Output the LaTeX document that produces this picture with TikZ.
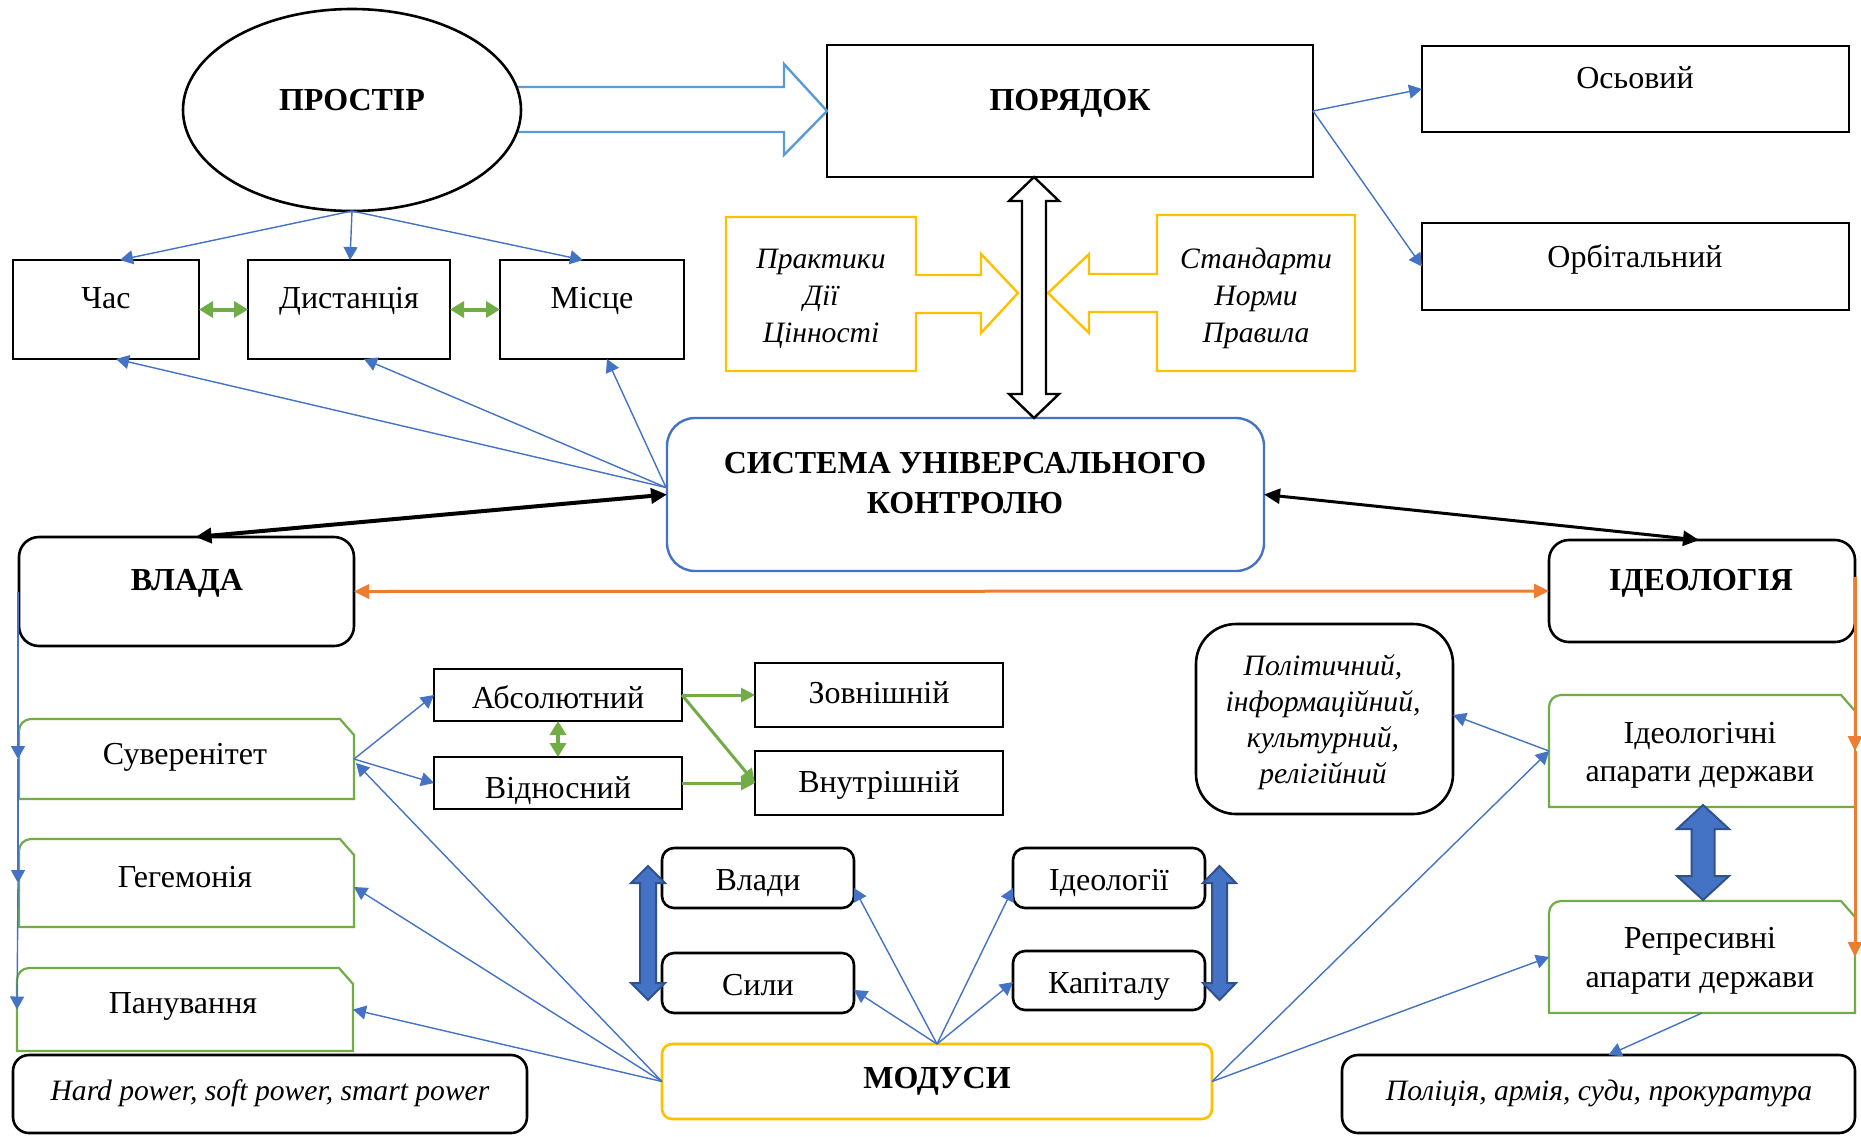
\documentclass[tikz,border=0pt]{standalone}
\usepackage{fontspec}
\setmainfont{Liberation Serif}
\usetikzlibrary{arrows.meta,shapes.geometric,calc}
\definecolor{ofblue}{HTML}{4472C4}
\definecolor{ltblue}{HTML}{5B9BD5}
\definecolor{dkblue}{HTML}{2F528F}
\definecolor{ofgreen}{HTML}{70AD47}
\definecolor{ofgold}{HTML}{FFC000}
\definecolor{oforange}{HTML}{ED7D31}
\newcommand\bx[6]{\node[#2, inner sep=0pt, outer sep=0pt, minimum width={(#5-#3)*0.5pt}, minimum height={(#6-#4)*0.5pt}] (#1) at ({(#3+#5)/2},{(#4+#6)/2}) {};}
\newcommand\gshape[1]{\draw[gbox] (#1.south west) -- ([yshift=-6pt]#1.north west) arc[start angle=180,end angle=90,radius=6pt] -- ([xshift=-7pt]#1.north east) -- ([yshift=-8pt]#1.north east) -- (#1.south east) -- cycle;}
\newcommand\vdbl[7]{\draw[#7] (#1,#2) -- ({#1+#4},{#2+#6}) -- ({#1+#5},{#2+#6}) -- ({#1+#5},{#3-#6}) -- ({#1+#4},{#3-#6}) -- (#1,#3) -- ({#1-#4},{#3-#6}) -- ({#1-#5},{#3-#6}) -- ({#1-#5},{#2+#6}) -- ({#1-#4},{#2+#6}) -- cycle;}
\tikzset{
  blk/.style={draw=black, line width=1.3pt},
  rblk/.style={draw=black, line width=1.3pt, rounded corners=#1},
  gbox/.style={draw=ofgreen, line width=1.1pt},
  txt/.style={font=\fontsize{16}{18.5}\selectfont, align=center, inner sep=0pt, text height=10.6pt, text depth=0pt},
  btxt/.style={txt, font=\bfseries\fontsize{16}{20}\selectfont},
  itxt/.style={txt, font=\itshape\fontsize{14.8}{18.5}\selectfont},
  conn/.style={ofblue, line width=0.7pt, -{Triangle[length=6.5pt,width=7pt]}},
  garr/.style={ofgreen, line width=1.5pt, -{Triangle[length=7pt,width=7pt]}},
  gdbl/.style={ofgreen, line width=2pt, {Triangle[length=7pt,width=8pt]}-{Triangle[length=7pt,width=8pt]}},
  oarr/.style={oforange, line width=1.5pt, -{Triangle[length=7.5pt,width=7pt]}},
  odbl/.style={oforange, line width=1.5pt, {Triangle[length=7.5pt,width=7pt]}-{Triangle[length=7.5pt,width=7pt]}},
  kdbl/.style={black, line width=#1, {Triangle[length=8pt,width=7.5pt]}-{Triangle[length=8pt,width=7.5pt]}},
  bigblue/.style={fill=ofblue, draw=dkblue, line width=1pt},
  callout/.style={draw=ofgold, line width=1.2pt, fill=white}
}
\begin{document}
\begin{tikzpicture}[x=0.5pt,y=-0.5pt]
\useasboundingbox (0,0) rectangle (1861,1136);
\fill[white] (0,0) rectangle (1861,1136);

% ---------- boxes ----------
\node[ellipse, inner sep=0pt, outer sep=0pt, minimum width=169pt, minimum height=101pt] (prostir) at (352,110) {};
\bx{porjadok}{blk}{827}{45}{1313}{177}
\bx{osovyi}{blk}{1422}{46}{1849}{132}
\bx{orbit}{blk}{1422}{223}{1849}{310}
\bx{chas}{blk}{13}{260}{199}{359}
\bx{dist}{blk}{248}{260}{450}{359}
\bx{misce}{blk}{500}{260}{684}{359}
\bx{system}{draw=ofblue, line width=1.2pt, rounded corners=14pt}{667}{418}{1264}{571}
\bx{vlada}{rblk=10pt}{19}{537}{354}{646}
\bx{ideol}{rblk=10pt}{1549}{540}{1855}{642}
\bx{abs}{blk}{434}{669}{682}{721}
\bx{vidn}{blk}{434}{757}{682}{809}
\bx{zovn}{blk}{755}{663}{1003}{727}
\bx{vnutr}{blk}{755}{751}{1003}{815}
\bx{polit}{rblk=20pt}{1196}{624}{1453}{814}
\bx{vladi}{rblk=6pt}{662}{848}{854}{908}
\bx{syly}{rblk=6pt}{662}{953}{854}{1013}
\bx{ideolii}{rblk=6pt}{1013}{848}{1205}{908}
\bx{kapital}{rblk=6pt}{1013}{951}{1205}{1010}
\bx{modusy}{draw=ofgold, line width=1.3pt, rounded corners=5pt}{662}{1044}{1212}{1119}
\bx{hard}{rblk=8pt}{13}{1055}{527}{1133}
\bx{polic}{rblk=8pt}{1342}{1055}{1855}{1133}
\bx{suver}{}{19}{719}{354}{799}
\bx{hegem}{}{19}{839}{354}{927}
\bx{panuv}{}{17}{968}{353}{1051}
\bx{ideoap}{}{1549}{695}{1855}{807}
\bx{repres}{}{1549}{901}{1855}{1013}
\gshape{suver}
\gshape{hegem}
\gshape{panuv}
\gshape{ideoap}
\gshape{repres}

% hollow arrow PROSTIR -> PORJADOK
\draw[ltblue, line width=1.2pt, fill=white] ($(prostir.east)+(-6,-23)$) -- ($(porjadok.west)+(-43,-24)$) -- ($(porjadok.west)+(-43,-47)$) -- (porjadok.west) -- ($(porjadok.west)+(-43,44)$) -- ($(porjadok.west)+(-43,21)$) -- ($(prostir.east)+(-6,22)$) -- cycle;
\draw[black, line width=1.3pt, fill=white] (prostir) ellipse[x radius=169, y radius=101];

% yellow callouts
\draw[callout] (726,217) -- (916,217) -- (916,275) -- (981,275) -- (981,254) -- (1018,293) -- (981,333) -- (981,313) -- (916,313) -- (916,371) -- (726,371) -- cycle;
\draw[callout] (1355,215) -- (1157,215) -- (1157,274) -- (1089,274) -- (1089,254) -- (1048,293) -- (1089,333) -- (1089,312) -- (1157,312) -- (1157,371) -- (1355,371) -- cycle;

% vertical hollow double arrow PORJADOK <-> SYSTEM
\coordinate (vt) at (1034,0 |- porjadok.south);
\coordinate (vb) at (1034,0 |- system.north);
\draw[black, line width=1.2pt, fill=white] (vt) -- ($(vt)+(25,24)$) -- ($(vt)+(12,24)$) -- ($(vb)+(12,-24)$) -- ($(vb)+(25,-24)$) -- (vb) -- ($(vb)+(-25,-24)$) -- ($(vb)+(-12,-24)$) -- ($(vt)+(-12,24)$) -- ($(vt)+(-25,24)$) -- cycle;

% big blue double arrows
\vdbl{648}{866}{1000}{17}{8}{17}{bigblue}
\vdbl{1219.5}{866}{1000}{16.5}{7.5}{17}{bigblue}
\vdbl{1703}{805}{900}{26}{11.5}{24}{bigblue}

% ---------- texts ----------
\node[btxt] (prostir-t) at (352,100) {ПРОСТІР};
\node[btxt] (porjadok-t) at (1070,100) {ПОРЯДОК};
\node[txt] (osovyi-t) at (1635,78) {Осьовий};
\node[txt] (orbit-t) at (1635,257) {Орбітальний};
\node[txt] (chas-t) at (106,298) {Час};
\node[txt] (dist-t) at (349,298) {Дистанція};
\node[txt] (misce-t) at (592,298) {Місце};
\node[itxt] (prakt-t) at (821,332) {Практики\\Дії\\Цінності};
\node[itxt] (stand-t) at (1256,332) {Стандарти\\Норми\\Правила};
\node[btxt] (system-t) at (965,503) {СИСТЕМА УНІВЕРСАЛЬНОГО\\КОНТРОЛЮ};
\node[btxt] (vlada-t) at (187,580) {ВЛАДА};
\node[btxt] (ideol-t) at (1701,580) {ІДЕОЛОГІЯ};
\node[txt] (abs-t) at (558,698) {Абсолютний};
\node[txt] (vidn-t) at (558,788) {Відносний};
\node[txt] (zovn-t) at (879,693) {Зовнішній};
\node[txt] (vnutr-t) at (879,782) {Внутрішній};
\node[txt] (suver-t) at (185,754) {Суверенітет};
\node[txt] (hegem-t) at (185,877) {Гегемонія};
\node[txt] (panuv-t) at (183,1003) {Панування};
\node[itxt, font=\itshape\fontsize{14.8}{18}\selectfont] (polit-t) at (1323,773) {Політичний,\\інформаційний,\\культурний,\\релігійний};
\node[txt, font=\fontsize{16}{19}\selectfont] (ideoap-t) at (1700,771) {Ідеологічні\\апарати держави};
\node[txt, font=\fontsize{16}{19.5}\selectfont] (repres-t) at (1700,977) {Репресивні\\апарати держави};
\node[txt] (vladi-t) at (758,880) {Влади};
\node[txt] (syly-t) at (758,985) {Сили};
\node[txt] (ideolii-t) at (1109,880) {Ідеології};
\node[txt] (kapital-t) at (1109,983) {Капіталу};
\node[btxt] (modusy-t) at (937,1078) {МОДУСИ};
\node[itxt] (hard-t) at (270,1090) {Hard power, soft power, smart power};
\node[itxt] (polic-t) at (1599,1090) {Поліція, армія, суди, прокуратура};

% ---------- connectors ----------
\draw[conn] (prostir.south) -- ($(chas.north)+(14,0)$);
\draw[conn] (prostir.south) -- ($(dist.north)+(1,0)$);
\draw[conn] (prostir.south) -- ($(misce.north)+(-9,0)$);
\draw[conn] (porjadok.east) -- (osovyi.west);
\draw[conn] (porjadok.east) -- (orbit.west);
\coordinate (sysL) at ($(system.west)+(-1,-7)$);
\draw[conn] (sysL) -- ($(chas.south)+(10,0)$);
\draw[conn] (sysL) -- ($(dist.south)+(15,0)$);
\draw[conn] (sysL) -- ($(misce.south)+(15,0)$);
\draw[kdbl=2pt] (system.west) -- ($(vlada.north)+(9,0)$);
\draw[kdbl=1.5pt] (system.east) -- ($(ideol.north)+(-3,0)$);
\draw[odbl] (vlada.east) -- (ideol.west);
\draw[oarr] ($(ideol.east)+(0,-14)$) -- (ideoap.east);
\draw[oarr] (ideoap.east) -- (repres.east);
\draw[conn] ($(vlada.west)+(-1,0)$) -- ($(suver.west)+(-1,0)$);
\draw[conn] ($(suver.west)+(-1,0)$) -- ($(hegem.west)+(-1,0)$);
\draw[conn] ($(hegem.west)+(-1,0)$) -- (panuv.west);
\draw[conn] (suver.east) -- (abs.west);
\draw[conn] (suver.east) -- (vidn.west);
\draw[garr] (abs.east) -- (zovn.west);
\draw[garr] (abs.east) -- (vnutr.west);
\draw[garr] (vidn.east) -- (vnutr.west);
\draw[gdbl] (abs.south) -- (vidn.north);
\draw[gdbl] (chas.east) -- (dist.west);
\draw[gdbl] (dist.east) -- (misce.west);
\draw[conn] (modusy.west) -- ($(suver.east)+(2,4)$);
\draw[conn] (modusy.west) -- ($(hegem.east)+(0,4)$);
\draw[conn] (modusy.west) -- (panuv.east);
\draw[conn] (modusy.north) -- ($(vladi.east)+(0,10)$);
\draw[conn] (modusy.north) -- ($(syly.east)+(0,7)$);
\draw[conn] (modusy.north) -- ($(ideolii.west)+(0,10)$);
\draw[conn] (modusy.north) -- ($(kapital.west)+(0,1.5)$);
\draw[conn] (modusy.east) -- (ideoap.west);
\draw[conn] (modusy.east) -- (repres.west);
\draw[conn] (ideoap.west) -- ($(polit.east)+(0,-4)$);
\draw[conn] (repres.south) -- ($(polic.north)+(10,0)$);
\end{tikzpicture}
\end{document}
